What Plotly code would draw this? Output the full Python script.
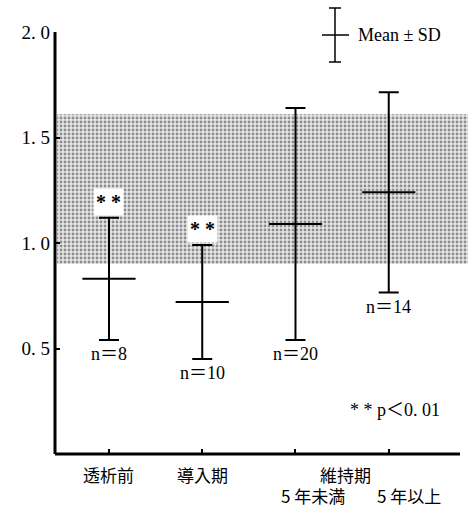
import plotly.graph_objects as go

# ---- data ----
categories = ["透析前", "導入期", "5年未満", "5年以上"]
means = [0.83, 0.72, 1.09, 1.24]
sds = [0.29, 0.27, 0.55, 0.475]
n_labels = ["n＝8", "n＝10", "n＝20", "n＝14"]
signif = ["* *", "* *", "", ""]
band_range = [0.90, 1.61]
y_ticks = [0.5, 1.0, 1.5, 2.0]
y_ticktext = ["0. 5", "1. 0", "1. 5", "2. 0"]
group_label = "維持期"
note_text = "* * p＜0. 01"
legend_text = "Mean ± SD"

SERIF = "Liberation Serif, Noto Sans CJK JP, serif"
CJK = "Noto Sans CJK JP, sans-serif"

W, H = 472, 508
L, R, T, B = 55, 4, 32, 54
pw = W - L - R
ph = H - T - B


def px2x(px):
    return (px - L) / pw


def py2y(py):
    return (H - B - py) / ph


fig = go.Figure()

# reference band (dotted pattern) on the base numeric axis, drawn underneath
fig.add_trace(go.Scatter(
    x=[0.005, 1, 1, 0.005, 0.005],
    y=[band_range[0], band_range[0], band_range[1], band_range[1], band_range[0]],
    xaxis="x", yaxis="y",
    mode="lines", line=dict(width=0),
    fill="toself", fillcolor="rgba(0,0,0,0)",
    fillpattern=dict(shape=".", size=4, solidity=0.4, fgcolor="#333", bgcolor="#e6e6e6"),
    hoverinfo="skip", showlegend=False,
))

# mean ± SD on the overlaying categorical axis
fig.add_trace(go.Scatter(
    x=categories, y=means,
    xaxis="x2", yaxis="y",
    mode="markers",
    marker=dict(symbol="line-ew", size=38, line=dict(width=2, color="black"), color="black"),
    error_y=dict(type="data", array=sds, visible=True, thickness=2, width=10, color="black"),
    showlegend=False,
))

annotations = []
for c, m, s, nl, sg in zip(categories, means, sds, n_labels, signif):
    annotations.append(dict(x=c, y=m - s, xref="x2", yref="y", text=nl, showarrow=False,
                            xanchor="center", yanchor="top", yshift=-2,
                            font=dict(family=SERIF, size=18, color="black")))
    if sg:
        annotations.append(dict(x=c, y=m + s, xref="x2", yref="y", text="<b>" + sg + "</b>",
                                showarrow=False,
                                xanchor="center", yanchor="bottom", yshift=2, bgcolor="white",
                                borderpad=2,
                                font=dict(family=SERIF, size=20, color="black")))

# category labels below axis
row1 = py2y(474)
row2 = py2y(495)
lab_font = dict(family=CJK, size=17, color="black")
annotations += [
    dict(x=categories[0], y=row1, xref="x2", yref="paper", text=categories[0], showarrow=False,
         xanchor="center", yanchor="middle", font=lab_font),
    dict(x=categories[1], y=row1, xref="x2", yref="paper", text=categories[1], showarrow=False,
         xanchor="center", yanchor="middle", font=lab_font),
    dict(x=categories[2], y=row2, xref="x2", yref="paper", text=categories[2].replace("5", "5 "),
         showarrow=False, xanchor="center", yanchor="middle", xshift=18, font=lab_font),
    dict(x=categories[3], y=row2, xref="x2", yref="paper", text=categories[3].replace("5", "5 "),
         showarrow=False, xanchor="center", yanchor="middle", xshift=20, font=lab_font),
    dict(x=px2x(345), y=row1, xref="paper", yref="paper", text=group_label, showarrow=False,
         xanchor="center", yanchor="middle", font=lab_font),
    dict(x=px2x(395), y=py2y(410), xref="paper", yref="paper", text=note_text, showarrow=False,
         xanchor="center", yanchor="middle", font=dict(family=SERIF, size=18, color="black")),
    dict(x=px2x(356), y=py2y(35), xref="paper", yref="paper", text=legend_text, showarrow=False,
         xanchor="left", yanchor="middle", font=dict(family=SERIF, size=18, color="black")),
]

shapes = [
    # y axis line
    dict(type="line", xref="paper", yref="y", x0=0, x1=0, y0=0, y1=2.0,
         line=dict(color="black", width=3)),
    # x axis line
    dict(type="line", xref="paper", yref="paper", x0=0, x1=px2x(460), y0=0, y1=0,
         line=dict(color="black", width=3)),
    # legend key
    dict(type="line", xref="paper", yref="paper", x0=px2x(335), x1=px2x(335), y0=py2y(8), y1=py2y(62),
         line=dict(color="black", width=1.5)),
    dict(type="line", xref="paper", yref="paper", x0=px2x(329), x1=px2x(341), y0=py2y(8), y1=py2y(8),
         line=dict(color="black", width=1.5)),
    dict(type="line", xref="paper", yref="paper", x0=px2x(329), x1=px2x(341), y0=py2y(62), y1=py2y(62),
         line=dict(color="black", width=1.5)),
    dict(type="line", xref="paper", yref="paper", x0=px2x(322), x1=px2x(349), y0=py2y(35), y1=py2y(35),
         line=dict(color="black", width=1.5)),
]

fig.update_layout(
    width=W, height=H,
    margin=dict(l=L, r=R, t=T, b=B),
    paper_bgcolor="white", plot_bgcolor="white",
    showlegend=False,
    xaxis=dict(range=[0, 1], visible=False, fixedrange=True),
    xaxis2=dict(type="category", categoryorder="array", categoryarray=categories,
                overlaying="x", side="bottom",
                range=[-0.579, 3.85], showgrid=False, zeroline=False, showline=False,
                ticks="inside", ticklen=5, tickwidth=2, tickcolor="black",
                showticklabels=False, fixedrange=True),
    yaxis=dict(range=[0, 2.0], showgrid=False, zeroline=False, showline=False,
               tickvals=y_ticks, ticktext=y_ticktext,
               ticks="inside", ticklen=5, tickwidth=2, tickcolor="black",
               tickfont=dict(family=SERIF, size=19, color="black"),
               ticklabelstandoff=4, fixedrange=True),
    annotations=annotations,
    shapes=shapes,
)

fig.write_html("out.html")
